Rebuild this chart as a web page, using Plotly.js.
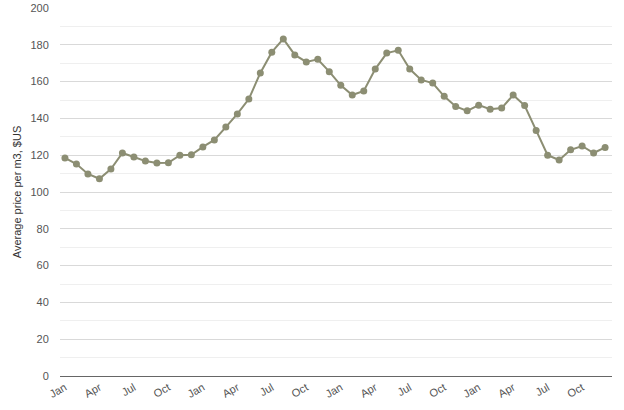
<!DOCTYPE html>
<html><head><meta charset="utf-8">
<script src="https://cdn.plot.ly/plotly-3.0.1.min.js"></script>
<style>html,body{margin:0;padding:0;background:#fff;}#chart{width:624px;height:410px;}</style>
</head><body><div id="chart"></div>
<script>
const monthNames = ['Jan','Feb','Mar','Apr','May','Jun','Jul','Aug','Sep','Oct','Nov','Dec'];
const years = [2020, 2021, 2022, 2023];
const categories = [];
years.forEach(y => monthNames.forEach(m => categories.push(m + ' ' + y)));
const prices = [118.5, 115.2, 109.8, 107.2, 112.5, 121.2, 119.0, 116.8, 115.8, 115.9, 120.0, 120.2,
  124.5, 128.3, 135.3, 142.4, 150.5, 164.7, 176.0, 183.2, 174.5, 170.7, 172.1, 165.4,
  158.0, 152.7, 154.9, 166.8, 175.5, 177.0, 166.8, 160.9, 159.2, 152.0, 146.5, 144.1,
  147.2, 145.0, 145.6, 152.7, 147.0, 133.4, 120.0, 117.4, 122.9, 125.0, 121.2, 124.2];
const tickLabels = [];
const tickPositions = [];
categories.forEach((c, i) => { if (i % 3 === 0) { tickPositions.push(c); tickLabels.push(c.split(' ')[0]); } });

Plotly.newPlot('chart', [{
  x: categories, y: prices, type: 'scatter', mode: 'lines+markers',
  line: {color: '#8c8e73', width: 2}, marker: {color: '#8c8e73', size: 7},
  hoverinfo: 'skip'
}], {
  width: 624, height: 410,
  margin: {l: 60, r: 12, t: 8, b: 34},
  paper_bgcolor: '#fff', plot_bgcolor: '#fff',
  showlegend: false,
  font: {family: 'Liberation Sans, Arial, sans-serif', color: '#555', size: 11},
  xaxis: {type: 'category', range: [-0.43, 47.6], tickvals: tickPositions, ticktext: tickLabels,
    tickangle: -30, showgrid: false, zeroline: false, showline: true, linecolor: '#666', linewidth: 1,
    ticks: '', tickfont: {size: 11, color: '#555'}},
  yaxis: {range: [0, 200], dtick: 20, showgrid: true, gridcolor: '#d9d9d9', gridwidth: 1,
    minor: {dtick: 10, showgrid: true, gridcolor: '#efefef', gridwidth: 1},
    zeroline: false, showline: false, ticks: 'outside', ticklen: 8, tickcolor: 'rgba(0,0,0,0)',
    tickfont: {size: 11, color: '#555'},
    title: {text: 'Average price per m3, $US', font: {size: 11, color: '#333'}, standoff: 6}}
}, {displayModeBar: false, staticPlot: true});
</script></body></html>
